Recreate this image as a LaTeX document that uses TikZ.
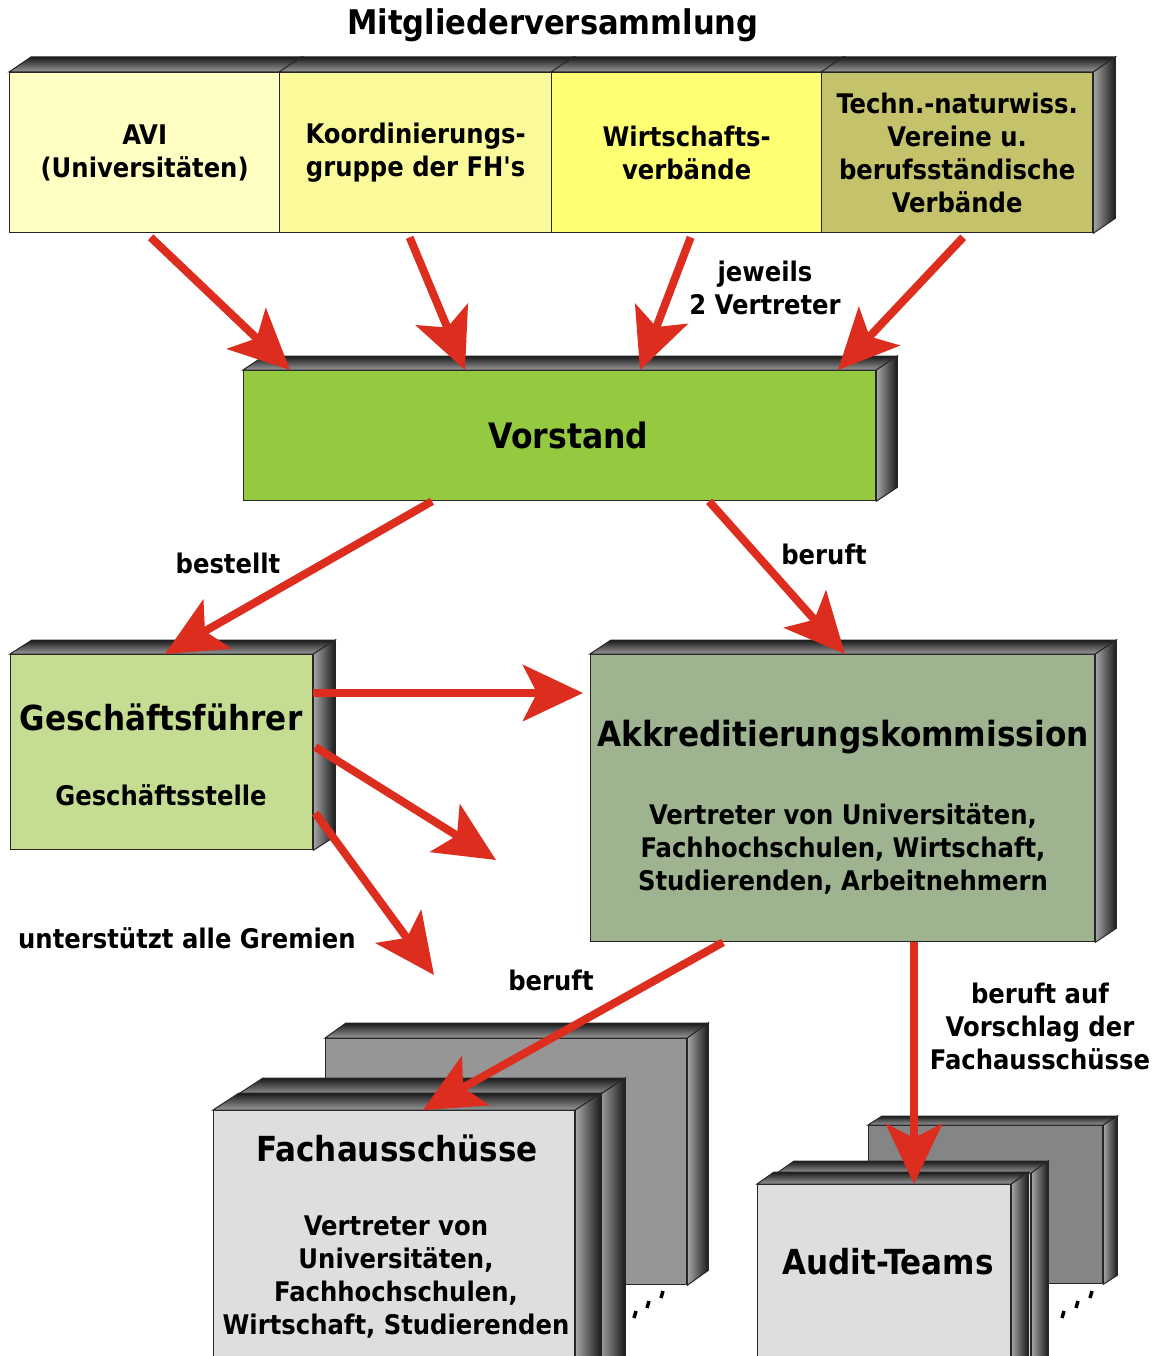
\documentclass[tikz,border=0pt]{standalone}
\usepackage{fontspec}
\setmainfont{DejaVu Sans Condensed}[Ligatures=TeXOff]
\usetikzlibrary{arrows.meta,calc}
\definecolor{arrred}{HTML}{DC2D1E}
\definecolor{cavi}{HTML}{FFFFC4}
\definecolor{ckoord}{HTML}{FAFA9B}
\definecolor{cwirt}{HTML}{FFFF73}
\definecolor{ctech}{HTML}{C4C26B}
\definecolor{cvor}{HTML}{95C93F}
\definecolor{cgf}{HTML}{C5DC93}
\definecolor{cak}{HTML}{9EB38F}
\definecolor{cfront}{HTML}{DEDEDE}
\definecolor{cbackA}{HTML}{969696}
\definecolor{cbackB}{HTML}{858585}
\newcommand\txs{\fontsize{27}{33}\selectfont\bfseries}
\newcommand\txl{\fontsize{34.5}{40}\selectfont\bfseries}
\newcommand\depthfaces[3]{%
  \shade[top color=black!90, bottom color=black!40, draw=black!85, line width=1pt]
    (#1.north west) -- ++(#2,#3) -- ([shift={(#2,#3)}]#1.north east) -- (#1.north east) -- cycle;
  \shade[left color=black!35, right color=black!90, draw=black!85, line width=1pt]
    (#1.north east) -- ++(#2,#3) -- ([shift={(#2,#3)}]#1.south east) -- (#1.south east) -- cycle;
}
\tikzset{
  boxface/.style={draw=black!85, line width=1.3pt, inner sep=0pt, align=center, anchor=north west},
  arr/.style={draw=arrred, line width=8pt, -{Stealth[length=60pt,width=56pt,inset=14pt]}},
  lbl/.style={font=\txs, align=center, inner sep=0pt},
  big/.style={font=\txl, align=center, inner sep=0pt},
  dotmark/.style={line width=3.5pt, black}
}
\begin{document}
\begin{tikzpicture}[x=1pt,y=-1pt]
\useasboundingbox (0,0) rectangle (1157,1356);
\clip (0,0) rectangle (1157,1356);

% title
\node[lbl, font=\fontsize{34}{40}\selectfont\bfseries] (title) at (553,25) {Mitgliederversammlung};

% top row
\node[boxface, fill=cavi, minimum width=270pt, minimum height=160pt, font=\txs] (avi) at (9,72) {AVI\\(Universitäten)};
\node[boxface, fill=ckoord, minimum width=272pt, minimum height=160pt, font=\txs] (koord) at (279,72) {Koordinierungs-\\gruppe der FH's};
\node[boxface, fill=cwirt, minimum width=270pt, minimum height=160pt, font=\txs] (wirt) at (551,72) {Wirtschafts-\\verbände};
\node[boxface, fill=ctech, minimum width=271pt, minimum height=160pt, font=\txs] (tech) at (821,72) {Techn.-naturwiss.\\Vereine u.\\berufsständische\\Verbände};
\shade[top color=black!90, bottom color=black!40, draw=black!85, line width=1pt]
  (avi.north west) -- ++(22,-15) -- ([shift={(22,-15)}]avi.north east) -- (avi.north east) -- cycle;
\shade[top color=black!90, bottom color=black!40, draw=black!85, line width=1pt]
  (koord.north west) -- ++(22,-15) -- ([shift={(22,-15)}]koord.north east) -- (koord.north east) -- cycle;
\shade[top color=black!90, bottom color=black!40, draw=black!85, line width=1pt]
  (wirt.north west) -- ++(22,-15) -- ([shift={(22,-15)}]wirt.north east) -- (wirt.north east) -- cycle;
\depthfaces{tech}{22}{-15}

% Vorstand
\node[boxface, fill=cvor, minimum width=632pt, minimum height=130pt, font=\fontsize{35}{40}\selectfont\bfseries] (vor) at (243,370) {\hspace*{18pt}Vorstand};
\depthfaces{vor}{21}{-14}

% Geschaeftsfuehrer
\node[boxface, fill=cgf, minimum width=302pt, minimum height=195pt] (gf) at (10,654) {};
\depthfaces{gf}{22}{-14}
\node[big] (gft) at (161,717) {Geschäftsführer};
\node[lbl] (gfs) at (161,795) {Geschäftsstelle};

% Akkreditierungskommission
\node[boxface, fill=cak, minimum width=504pt, minimum height=287pt] (ak) at (590,654) {};
\depthfaces{ak}{21}{-14}
\node[big, font=\fontsize{34.7}{40}\selectfont\bfseries] (akt) at (843,737) {Akkreditierungskommission};
\node[lbl] (aks) at (843,849) {Vertreter von Universitäten,\\Fachhochschulen, Wirtschaft,\\Studierenden, Arbeitnehmern};

% Fachausschuesse stack
\node[boxface, fill=cbackA, minimum width=361pt, minimum height=246pt] (fab) at (325,1038) {};
\depthfaces{fab}{21}{-15}
\node[boxface, fill=cfront, minimum width=361pt, minimum height=300pt] (fam) at (237,1095) {};
\depthfaces{fam}{26}{-17}
\node[boxface, fill=cfront, minimum width=361pt, minimum height=300pt] (fa) at (213,1110) {};
\depthfaces{fa}{26}{-17}
\node[big] (fat) at (397,1148) {Fachausschüsse};
\node[lbl] (fas) at (396,1277) {Vertreter von\\Universitäten,\\Fachhochschulen,\\Wirtschaft, Studierenden};
\draw[dotmark] (636,1311) -- (634,1318);
\draw[dotmark] (649,1301) -- (647,1308);
\draw[dotmark] (663,1291) -- (661,1298);

% Audit-Teams stack
\node[boxface, fill=cbackB, minimum width=234pt, minimum height=158pt] (atb) at (868,1125) {};
\depthfaces{atb}{14}{-9}
\node[boxface, fill=cfront, minimum width=253pt, minimum height=260pt] (atm) at (777,1173) {};
\depthfaces{atm}{17}{-12}
\node[boxface, fill=cfront, minimum width=253pt, minimum height=260pt] (at) at (757,1184) {};
\depthfaces{at}{17}{-12}
\node[big] (att) at (888,1262) {Audit-Teams};
\draw[dotmark] (1064,1311) -- (1062,1318);
\draw[dotmark] (1078,1301) -- (1076,1308);
\draw[dotmark] (1092,1291) -- (1090,1298);

% labels
\node[lbl] (l1) at (765,288) {jeweils\\2 Vertreter};
\node[lbl] (l2) at (228,563) {bestellt};
\node[lbl] (l3) at (824,554) {beruft};
\node[lbl] (l4) at (187,938) {unterstützt alle Gremien};
\node[lbl] (l5) at (551,980) {beruft};
\node[lbl] (l6) at (1040,1026) {beruft auf\\Vorschlag der\\Fachausschüsse};

% arrows
\draw[arr] ([shift={(6,4)}]avi.south) -- ([xshift=47pt]vor.north west);
\draw[arr] ([shift={(-6,4)}]koord.south) -- ([xshift=222pt]vor.north west);
\draw[arr] ([shift={(4,4)}]wirt.south) -- ([xshift=397pt]vor.north west);
\draw[arr] ([shift={(6,4)}]tech.south) -- ([xshift=595pt]vor.north west);
\draw[arr] ([xshift=189pt]vor.south west) -- ([xshift=155pt]gf.north west);
\draw[arr] ([xshift=466pt]vor.south west) -- ([xshift=255pt]ak.north west);
\draw[arr] ([shift={(0,39)}]gf.north east) -- ([shift={(-7,39)}]ak.north west);
\coordinate (g2) at (496,860);
\coordinate (g3) at (434,975);
\draw[arr] ([shift={(2,93)}]gf.north east) -- (g2);
\draw[arr] ([shift={(2,159)}]gf.north east) -- (g3);
\draw[arr] ([xshift=133pt]ak.south west) -- ([xshift=210pt]fa.north west);
\draw[arr] ([xshift=324pt]ak.south west) -- ([xshift=157pt]at.north west);
\end{tikzpicture}
\end{document}
